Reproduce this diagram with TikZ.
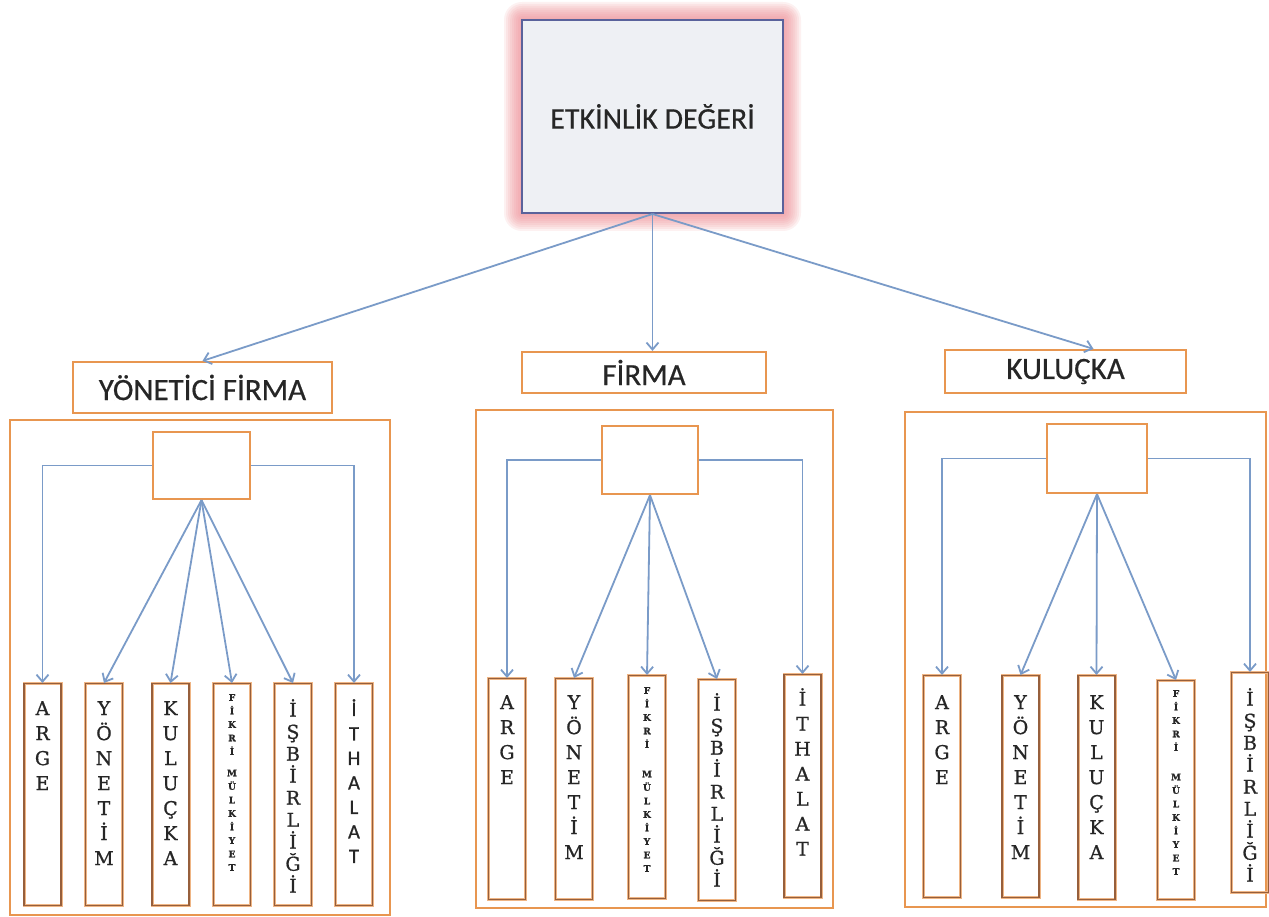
\documentclass[tikz,border=0pt]{standalone}
\usepackage{fontspec}
\setmainfont{Carlito}
\newfontfamily\harfserif[FakeBold=0.8]{DejaVu Serif}
\newfontfamily\harfsans[FakeBold=0.8]{Carlito}
\newfontfamily\etiketsans[FakeBold=0.5]{Carlito}
\usetikzlibrary{arrows.meta,positioning,calc}

\definecolor{turuncu}{RGB}{232,150,80}
\definecolor{kahve}{RGB}{150,95,60}
\definecolor{okmavi}{RGB}{122,155,200}
\definecolor{parlama}{RGB}{240,140,145}
\definecolor{anagri}{RGB}{238,240,244}
\definecolor{anacizgi}{RGB}{90,98,155}
\definecolor{yazi}{RGB}{38,38,38}

\tikzset{
  anakutu/.style={draw=anacizgi, line width=2pt, fill=anagri, minimum width=261pt, minimum height=193pt, font=\etiketsans\fontsize{30}{32}\selectfont, text=yazi},
  baslik/.style={draw=turuncu, line width=2.2pt, fill=white, font=\etiketsans\fontsize{31}{33}\selectfont, text=yazi, inner sep=0pt},
  bos/.style={draw=turuncu, line width=2.2pt, fill=white, inner sep=0pt},
  cerceve/.style={draw=turuncu, line width=2.2pt},
  sutun/.style={draw=kahve, line width=1.2pt, preaction={draw=turuncu!70, line width=3pt}, minimum width=37pt, minimum height=222pt, anchor=north, inner sep=0pt},
  serifharf/.style={font=\harfserif\fontsize{19}{25}\selectfont, align=center, anchor=north, inner sep=0pt, text=black!85},
  sansharf/.style={font=\harfsans\fontsize{20.5}{24.5}\selectfont, align=center, anchor=north, inner sep=0pt, text=black!85},
  minikharf/.style={font=\harfserif\bfseries\fontsize{9}{13.5}\selectfont, align=center, anchor=north, inner sep=0pt, text=black!85},
  ok/.style={draw=okmavi, line width=1.8pt, -{Straight Barb[length=7pt,width=12pt]}}
}

\begin{document}
\begin{tikzpicture}[x=1pt, y=-1pt]
\useasboundingbox[fill=white] (0,0) rectangle (1269,917);

\foreach \g in {18,16,...,2}
  \fill[parlama, opacity=0.12, rounded corners=\g pt] ({522-\g},{20-\g}) rectangle ({783+\g},{213+\g});
\node[anakutu] (etkinlik) at (652.5,116.5) {ETKİNLİK DEĞERİ};

\draw[cerceve] (10,420) rectangle (390,915);
\draw[cerceve] (476,410) rectangle (833,908);
\draw[cerceve] (905,412) rectangle (1266,907);

\node[baslik, minimum width=259pt, minimum height=51pt] (g1baslik) at (202.5,387.5) {YÖNETİCİ FİRMA};
\node[baslik, minimum width=244pt, minimum height=41pt] (g2baslik) at (644,372.5) {FİRMA};
\node[baslik, minimum width=241pt, minimum height=43pt] (g3baslik) at (1065.5,371.5) {KULUÇKA};

\draw[ok] (etkinlik.south) -- (g1baslik.north);
\draw[ok] (etkinlik.south) -- (etkinlik.south |- g2baslik.north);
\draw[ok] (etkinlik.south) -- ([xshift=28pt]g3baslik.north);

\node[bos, minimum width=97pt, minimum height=67pt] (g1kutu) at (201.5,465.5) {};
\node[bos, minimum width=96pt, minimum height=68pt] (g2kutu) at (650,460) {};
\node[bos, minimum width=100pt, minimum height=69pt] (g3kutu) at (1097,458.5) {};

\node[sutun] (g1arge) at (42.5,683) {};
\node[sutun] (g1yonetim) at (104,683) {};
\node[sutun] (g1kulucka) at (170.5,683) {};
\node[sutun] (g1fikri) at (232,683) {};
\node[sutun] (g1isbirligi) at (293,683) {};
\node[sutun] (g1ithalat) at (354,683) {};

\node[sutun, minimum height=221pt] (g2arge) at (507,678) {};
\node[sutun, minimum height=221pt] (g2yonetim) at (574,678) {};
\node[sutun, minimum height=223pt] (g2fikri) at (647,675) {};
\node[sutun, minimum height=221pt] (g2isbirligi) at (717,679) {};
\node[sutun, minimum height=223pt] (g2ithalat) at (802.5,674) {};

\node[sutun] (g3arge) at (942,675) {};
\node[sutun] (g3yonetim) at (1020.5,675) {};
\node[sutun, minimum height=224pt] (g3kulucka) at (1096.5,675) {};
\node[sutun, minimum height=219pt] (g3fikri) at (1176,680) {};
\node[sutun, minimum height=220pt] (g3isbirligi) at (1250,672) {};

\node[serifharf] (g1argey) at ([yshift=-18pt]g1arge.north) {A\\R\\G\\E};
\node[serifharf] (g1yonetimy) at ([yshift=-18pt]g1yonetim.north) {Y\\Ö\\N\\E\\T\\İ\\M};
\node[serifharf] (g1kuluckay) at ([yshift=-18pt]g1kulucka.north) {K\\U\\L\\U\\Ç\\K\\A};
\node[minikharf] (g1fikriy) at ([yshift=-11pt]g1fikri.north) {F\\İ\\K\\R\\İ\\[8pt]M\\Ü\\L\\K\\İ\\Y\\E\\T};
\node[serifharf, font=\harfserif\fontsize{19}{22}\selectfont] (g1isbirligiy) at ([yshift=-16pt]g1isbirligi.north) {İ\\Ş\\B\\İ\\R\\L\\İ\\Ğ\\İ};
\node[sansharf] (g1ithalaty) at ([yshift=-16pt]g1ithalat.north) {İ\\T\\H\\A\\L\\A\\T};

\node[serifharf] (g2argey) at ([yshift=-17pt]g2arge.north) {A\\R\\G\\E};
\node[serifharf] (g2yonetimy) at ([yshift=-17pt]g2yonetim.north) {Y\\Ö\\N\\E\\T\\İ\\M};
\node[minikharf] (g2fikriy) at ([yshift=-12pt]g2fikri.north) {F\\İ\\K\\R\\İ\\[16pt]M\\Ü\\L\\K\\İ\\Y\\E\\T};
\node[serifharf, font=\harfserif\fontsize{19}{22}\selectfont] (g2isbirligiy) at ([yshift=-14pt]g2isbirligi.north) {İ\\Ş\\B\\İ\\R\\L\\İ\\Ğ\\İ};
\node[serifharf] (g2ithalaty) at ([yshift=-14pt]g2ithalat.north) {İ\\T\\H\\A\\L\\A\\T};

\node[serifharf] (g3argey) at ([yshift=-20pt]g3arge.north) {A\\R\\G\\E};
\node[serifharf] (g3yonetimy) at ([yshift=-20pt]g3yonetim.north) {Y\\Ö\\N\\E\\T\\İ\\M};
\node[serifharf] (g3kuluckay) at ([yshift=-20pt]g3kulucka.north) {K\\U\\L\\U\\Ç\\K\\A};
\node[minikharf] (g3fikriy) at ([yshift=-10pt]g3fikri.north) {F\\İ\\K\\R\\İ\\[16pt]M\\Ü\\L\\K\\İ\\Y\\E\\T};
\node[serifharf, font=\harfserif\fontsize{19}{22}\selectfont] (g3isbirligiy) at ([yshift=-16pt]g3isbirligi.north) {İ\\Ş\\B\\İ\\R\\L\\İ\\Ğ\\İ};

\draw[ok] (g1kutu.west) -| (g1arge.north);
\draw[ok] (g1kutu.east) -| (g1ithalat.north);
\foreach \s in {yonetim,kulucka,fikri,isbirligi}
  \draw[ok] (g1kutu.south) -- (g1\s.north);

\draw[ok] (g2kutu.west) -| (g2arge.north);
\draw[ok] (g2kutu.east) -| (g2ithalat.north);
\foreach \s in {yonetim,fikri,isbirligi}
  \draw[ok] (g2kutu.south) -- (g2\s.north);

\draw[ok] (g3kutu.west) -| (g3arge.north);
\draw[ok] (g3kutu.east) -| (g3isbirligi.north);
\foreach \s in {yonetim,kulucka,fikri}
  \draw[ok] (g3kutu.south) -- (g3\s.north);
\end{tikzpicture}
\end{document}
